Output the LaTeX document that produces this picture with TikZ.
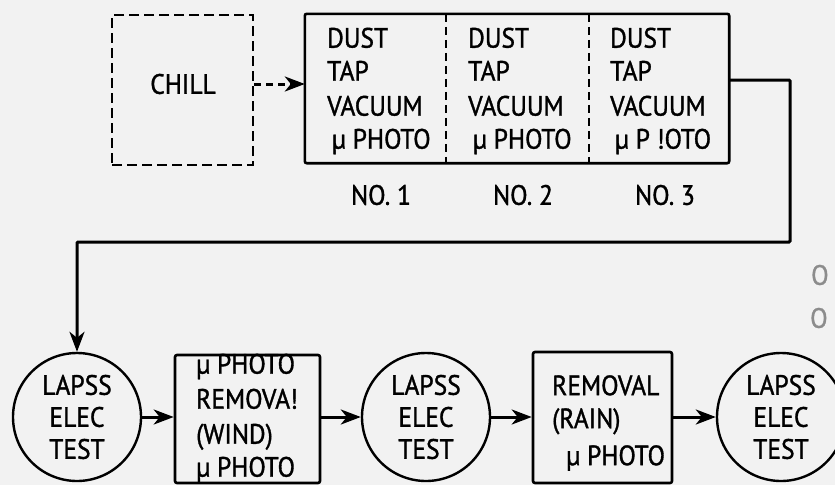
\documentclass[tikz,border=0pt]{standalone}
\usepackage{fontspec}
\setmainfont[FakeStretch=0.91,FakeBold=1.2]{PT Sans}
\usetikzlibrary{arrows.meta}
\begin{document}
\begin{tikzpicture}[x=1pt,y=-1pt,
  lbl/.style={font=\fontsize{28}{33}\selectfont, inner sep=0pt},
  boxtxt/.style={lbl, align=left, anchor=west},
  dashbox/.style={draw, line width=2.4pt, dash pattern=on 10pt off 5pt},
  procbox/.style={draw, line width=2.6pt, rounded corners=2pt, inner sep=0pt},
  testcirc/.style={draw, circle, line width=2.4pt, minimum size=128pt, inner sep=0pt, align=center, font=\fontsize{28}{32}\selectfont},
  flow/.style={line width=3pt, -{Stealth[length=20pt,width=15pt,inset=6pt]}},
  divider/.style={line width=1.8pt, dash pattern=on 8pt off 5pt}
]
\useasboundingbox (0,0) rectangle (835,485);
\clip (0,0) rectangle (835,485);
\fill[black!5] (0,0) rectangle (835,485);

% CHILL
\node[dashbox, minimum width=141pt, minimum height=150pt, inner sep=0pt] (chill) at (182.5,90) {};
\node[lbl] (chilltxt) at (183,84) {CHILL};

% three sections
\node[minimum width=141pt, minimum height=149pt, inner sep=0pt] (s1) at (375.5,88.5) {};
\node[minimum width=143pt, minimum height=149pt, inner sep=0pt] (s2) at (517.5,88.5) {};
\node[minimum width=140pt, minimum height=149pt, inner sep=0pt] (s3) at (659,88.5) {};
\draw[procbox] (s1.north west) rectangle (s3.south east);
\draw[divider] (s1.north east) -- (s1.south east);
\draw[divider] (s2.north east) -- (s2.south east);

\node[boxtxt] (t1) at (327,91) {DUST\\TAP\\[2pt]VACUUM\\\,µ PHOTO};
\node[boxtxt] (t2) at (468,91) {DUST\\TAP\\[2pt]VACUUM\\\,µ PHOTO};
\node[boxtxt] (t3) at (610,91) {DUST\\TAP\\[2pt]VACUUM\\\,µ P !OTO};

\node[lbl] (n1) at (381,195) {NO. 1};
\node[lbl] (n2) at (523,195) {NO. 2};
\node[lbl] (n3) at (665,195) {NO. 3};

% bottom row
\node[testcirc] (c1) at (77,417) {LAPSS\\ELEC\\TEST};
\node[procbox, minimum width=145pt, minimum height=128pt] (b2) at (247.5,419) {};
\node[boxtxt] (b2t) at (196,418) {µ PHOTO\\[2pt]REMOVA!\\[2pt](WIND)\\µ PHOTO};
\node[testcirc] (c2) at (426,417) {LAPSS\\ELEC\\TEST};
\node[procbox, minimum width=139pt, minimum height=131pt] (b3) at (602.5,417.5) {};
\node[boxtxt] (b3t) at (552,423) {REMOVAL\\(RAIN)\\[4pt]\enspace µ PHOTO};
\node[testcirc] (c3) at (781,417) {LAPSS\\ELEC\\TEST};

% partial gray text at right edge
\node[lbl, anchor=west, text=black!45] (g1) at (811,275) {O};
\node[lbl, anchor=west, text=black!45] (g2) at (810,318) {O};

% connectors
\draw[flow, dash pattern=on 7pt off 5pt] (chill.east |- 0,84) -- (s1.west |- 0,84);
\coordinate (r1) at (790,80);
\coordinate (r2) at (790,242);
\coordinate (r3) at (77,242);
\draw[flow, rounded corners=1pt] (s3.east |- r1) -- (r1) -- (r2) -- (r3) -- (c1.north);
\draw[flow] (c1.east) -- (b2.west |- c1.east);
\draw[flow] (b2.east |- c2.west) -- (c2.west);
\draw[flow] (c2.east) -- (b3.west |- c2.east);
\draw[flow] (b3.east |- c3.west) -- (c3.west);
\end{tikzpicture}
\end{document}
